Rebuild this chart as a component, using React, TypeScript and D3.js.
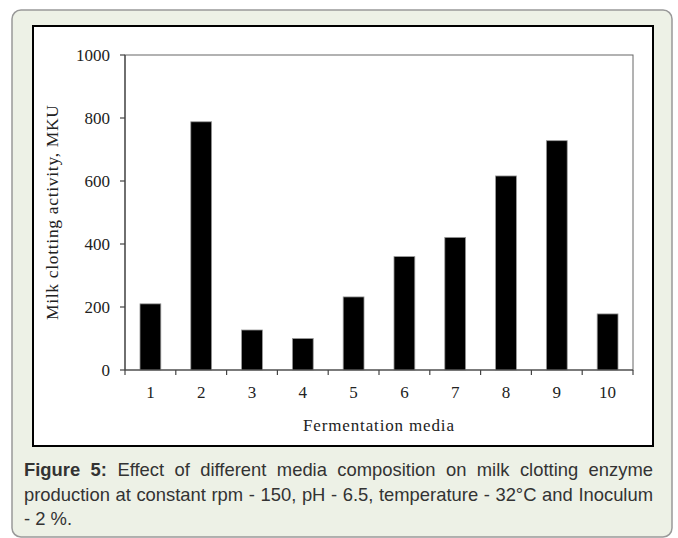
import React from "react";
import * as d3 from "d3";

const categories = ["1", "2", "3", "4", "5", "6", "7", "8", "9", "10"];
const values = [210, 788, 127, 100, 232, 360, 421, 616, 728, 178];
const yTicks = [0, 200, 400, 600, 800, 1000];
const yTitle = "Milk clotting activity, MKU";
const xTitle = "Fermentation media";
const captionBold = "Figure 5:";
const captionLines = [
  "Effect of different media composition on milk clotting enzyme",
  "production at constant rpm - 150, pH - 6.5, temperature - 32°C and Inoculum",
  "- 2 %.",
];

const W = 678;
const H = 538;
const plot = { left: 125, right: 633, top: 55, bottom: 370 };
const capFont = "'Liberation Sans', Arial, sans-serif";
const capSize = 18.4;

let ctx: CanvasRenderingContext2D | null = null;
function measure(text: string, bold: boolean): number {
  if (!ctx) {
    const c = document.createElement("canvas");
    ctx = c.getContext("2d");
  }
  if (!ctx) return text.length * 8;
  ctx.font = `${bold ? "bold " : ""}${capSize}px ${capFont}`;
  return ctx.measureText(text).width;
}

function CaptionLine({ words, y, justify, x0, x1 }: { words: { t: string; b: boolean }[]; y: number; justify: boolean; x0: number; x1: number }) {
  const widths = words.map((w) => measure(w.t, w.b));
  const total = widths.reduce((a, b) => a + b, 0);
  const space = measure(" ", false);
  let gap = justify && words.length > 1 ? (x1 - x0 - total) / (words.length - 1) : space;
  let scale = 1;
  if (gap < space * 0.7) {
    gap = space * 0.7;
    scale = (x1 - x0 - gap * (words.length - 1)) / total;
  }
  let x = x0;
  return (
    <g>
      {words.map((w, i) => {
        const el = (
          <text
            key={i}
            x={x}
            y={y}
            fontFamily={capFont}
            fontSize={capSize}
            fontWeight={w.b ? "bold" : "normal"}
            fill="#333"
            textLength={scale !== 1 ? widths[i] * scale : undefined}
            lengthAdjust="spacingAndGlyphs"
          >
            {w.t}
          </text>
        );
        x += widths[i] * scale + gap;
        return el;
      })}
    </g>
  );
}

export default function App() {
  const x = d3.scaleBand<string>().domain(categories).range([plot.left, plot.right]).paddingInner(0.59).paddingOuter(0.295);
  const xc = d3.scaleBand<string>().domain(categories).range([plot.left, plot.right]);
  const y = d3.scaleLinear().domain([0, 1000]).range([plot.bottom, plot.top]);

  const line1 = [
    ...captionBold.split(" ").map((t) => ({ t, b: true })),
    ...captionLines[0].split(" ").map((t) => ({ t, b: false })),
  ];
  const line2 = captionLines[1].split(" ").map((t) => ({ t, b: false }));
  const line3 = captionLines[2].split(" ").map((t) => ({ t, b: false }));

  const serif = "'Liberation Serif', 'Times New Roman', serif";

  return (
    <svg width={W} height={H} style={{ position: "absolute", left: 0, top: 0 }}>
      <rect x={12} y={10} width={660} height={527} rx={9} fill="#edf1e6" stroke="#999" strokeWidth={1.5} />
      <rect x={33} y={26} width={620} height={420} fill="#fff" stroke="#000" strokeWidth={2} />
      <rect x={plot.left} y={plot.top} width={plot.right - plot.left} height={plot.bottom - plot.top} fill="none" stroke="#666" strokeWidth={1} />
      {values.map((v, i) => (
        <rect
          key={i}
          x={x(categories[i])!}
          y={y(v)}
          width={x.bandwidth()}
          height={y(0) - y(v)}
          fill="#000"
          stroke="#999"
          strokeWidth={0.8}
        />
      ))}
      <line x1={plot.left} x2={plot.left} y1={plot.top} y2={plot.bottom} stroke="#444" strokeWidth={1.2} />
      {yTicks.map((t) => (
        <g key={t}>
          <line x1={plot.left - 5} x2={plot.left} y1={y(t)} y2={y(t)} stroke="#444" strokeWidth={1.2} />
          <text x={plot.left - 15} y={y(t)} dy="0.35em" textAnchor="end" fontFamily={serif} fontSize={17} fill="#222">
            {t}
          </text>
        </g>
      ))}
      <line x1={plot.left} x2={plot.right} y1={plot.bottom} y2={plot.bottom} stroke="#444" strokeWidth={1.2} />
      {[...categories.map((c) => xc(c)!), plot.right].map((px, i) => (
        <line key={i} x1={px} x2={px} y1={plot.bottom} y2={plot.bottom + 5} stroke="#444" strokeWidth={1.2} />
      ))}
      {categories.map((c) => (
        <text key={c} x={xc(c)! + xc.bandwidth() / 2} y={398} textAnchor="middle" fontFamily={serif} fontSize={17} fill="#222">
          {c}
        </text>
      ))}
      <text x={303} y={431} fontFamily={serif} fontSize={17} fill="#222" textLength={151} lengthAdjust="spacing">
        {xTitle}
      </text>
      <text
        transform={`translate(58, 320) rotate(-90)`}
        fontFamily={serif}
        fontSize={17.5}
        fill="#222"
        textLength={215}
        lengthAdjust="spacing"
      >
        {yTitle}
      </text>
      <CaptionLine words={line1} y={476} justify={true} x0={24} x1={653} />
      <CaptionLine words={line2} y={501} justify={true} x0={24} x1={653} />
      <CaptionLine words={line3} y={525} justify={false} x0={24} x1={653} />
    </svg>
  );
}
